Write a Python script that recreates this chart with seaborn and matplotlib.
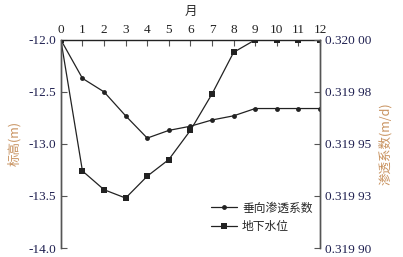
import numpy as np
import pandas as pd
import seaborn as sns
import matplotlib.pyplot as plt
from matplotlib.lines import Line2D

# data
months = list(range(13))
water_level = [-12.0, -13.26, -13.44, -13.52, -13.31, -13.15, -12.87, -12.52, -12.12, -12.0, -12.0, -12.0, -12.0]
permeability = [0.320000, 0.3199815, 0.319975, 0.3199635, 0.3199528, 0.3199565, 0.3199585,
                0.3199615, 0.3199635, 0.319967, 0.319967, 0.319967, 0.319967]
left_ticks = [-12.0, -12.5, -13.0, -13.5, -14.0]
right_ticks = [0.32000, 0.319975, 0.31995, 0.319925, 0.31990]
right_labels = ['0.320 00', '0.319 98', '0.319 95', '0.319 93', '0.319 90']

sns.set_style('ticks')
plt.rcParams['font.family'] = ['Liberation Serif', 'Noto Sans CJK SC']

cjk = ['Noto Sans CJK SC', 'DejaVu Sans']
tick_color = '#1f2050'
label_color = '#c8925f'
spine_color = '#555555'

df = pd.DataFrame({'month': months, 'level': water_level, 'k': permeability})

fig = plt.figure(figsize=(4.03, 2.57), dpi=100)
ax = fig.add_axes([0.151, 0.035, 0.643, 0.81])
ax2 = ax.twinx()

sns.lineplot(data=df, x='month', y='level', ax=ax, color='#222222', marker='s',
             markersize=4.5, markeredgewidth=0, linewidth=0.9)
sns.lineplot(data=df, x='month', y='k', ax=ax2, color='#222222', marker='o',
             markersize=3.5, markeredgewidth=0, linewidth=0.9)

ax.set_xlim(0, 12)
ax.set_ylim(-14.0, -12.0)
ax2.set_ylim(0.31990, 0.32000)

ax.xaxis.tick_top()
ax.xaxis.set_label_position('top')
ax.set_xticks(months)
ax.set_xlabel('月', family=cjk, fontsize=9, labelpad=6)
ax.set_yticks(left_ticks)
ax.set_yticklabels(['%.1f' % v for v in left_ticks])
ax.set_ylabel('标高(m)', family=cjk, fontsize=9, color=label_color, labelpad=5)

ax2.set_yticks(right_ticks)
ax2.set_yticklabels(right_labels)
ax2.set_ylabel('渗透系数(m/d)', family=cjk, fontsize=9, color=label_color, labelpad=5)

for a in (ax, ax2):
    a.spines['bottom'].set_visible(False)
    for s in ('top', 'left', 'right'):
        a.spines[s].set_color(spine_color)
        a.spines[s].set_linewidth(1.0)
    a.tick_params(axis='both', direction='in', length=4, width=0.8,
                  color=spine_color, labelsize=9.5, labelcolor=tick_color)
ax.spines['top'].set_color('#222222')
ax.tick_params(axis='x', pad=3, labelcolor='#222222')
ax2.spines['top'].set_visible(False)

handles = [
    Line2D([], [], color='#222222', marker='o', markersize=3.5, markeredgewidth=0, linewidth=0.9),
    Line2D([], [], color='#222222', marker='s', markersize=4.5, markeredgewidth=0, linewidth=0.9),
]
ax2.legend(handles, ['垂向渗透系数', '地下水位'], loc='lower left', bbox_to_anchor=(0.54, 0.02),
           frameon=False, prop={'family': cjk, 'size': 8.5}, handlelength=2.2,
           handletextpad=0.4, labelspacing=0.5)

fig.savefig('out.png', dpi=100)
